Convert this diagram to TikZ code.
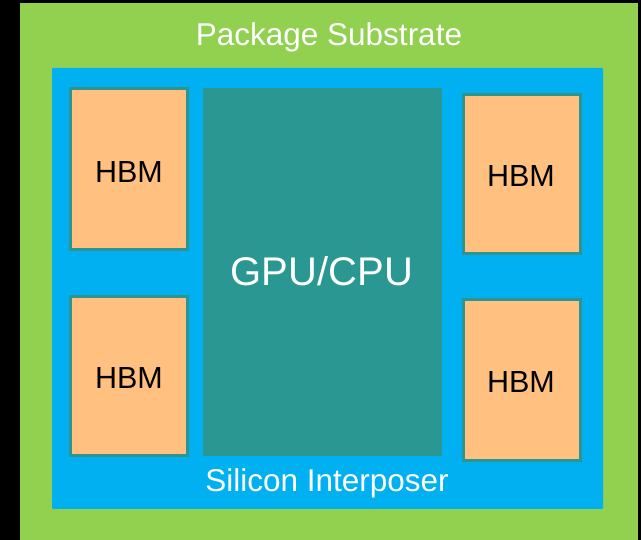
\documentclass[tikz,border=0pt]{standalone}
\usepackage{fontspec}
\setmainfont{Liberation Sans}
\definecolor{bgblack}{HTML}{000000}
\definecolor{subgreen}{HTML}{92D050}
\definecolor{intblue}{HTML}{00B0F0}
\definecolor{hbmorange}{HTML}{FFC080}
\definecolor{gputeal}{HTML}{2A9792}
\definecolor{hbmedge}{HTML}{2E9490}
\begin{document}
\begin{tikzpicture}[x=1pt,y=-1pt,
  hbmbox/.style={fill=hbmorange,draw=hbmedge,line width=3pt},
  whitelabel/.style={text=white,anchor=base,inner sep=0pt},
  blacklabel/.style={text=black,anchor=base,inner sep=0pt,font=\fontsize{30.5}{34}\selectfont}]
  \fill[bgblack] (0,0) rectangle (641,540);
  \useasboundingbox (0,0) rectangle (641,540);
  % substrate
  \fill[subgreen] (20,3) rectangle (638,540);
  \node[whitelabel,font=\fontsize{31.5}{36}\selectfont] (subst) at (329,46) {Package Substrate};
  % interposer
  \fill[intblue,rounded corners=1pt] (52,68) rectangle (603,509);
  \node[whitelabel,font=\fontsize{31.5}{36}\selectfont] (interp) at (327,492) {Silicon Interposer};
  % GPU
  \fill[gputeal] (203,88) rectangle (442,456);
  \node[whitelabel,font=\fontsize{40}{44}\selectfont] (gpu) at (322,286) {GPU/CPU};
  % HBMs
  \draw[hbmbox] (70,89) rectangle (187,250);
  \node[blacklabel] (hbm1) at (129,183) {HBM};
  \draw[hbmbox] (70,297) rectangle (187,456);
  \node[blacklabel] (hbm2) at (129,389) {HBM};
  \draw[hbmbox] (463,95) rectangle (580,254);
  \node[blacklabel] (hbm3) at (521,187) {HBM};
  \draw[hbmbox] (463,300) rectangle (580,461);
  \node[blacklabel] (hbm4) at (521,393) {HBM};
\end{tikzpicture}
\end{document}
